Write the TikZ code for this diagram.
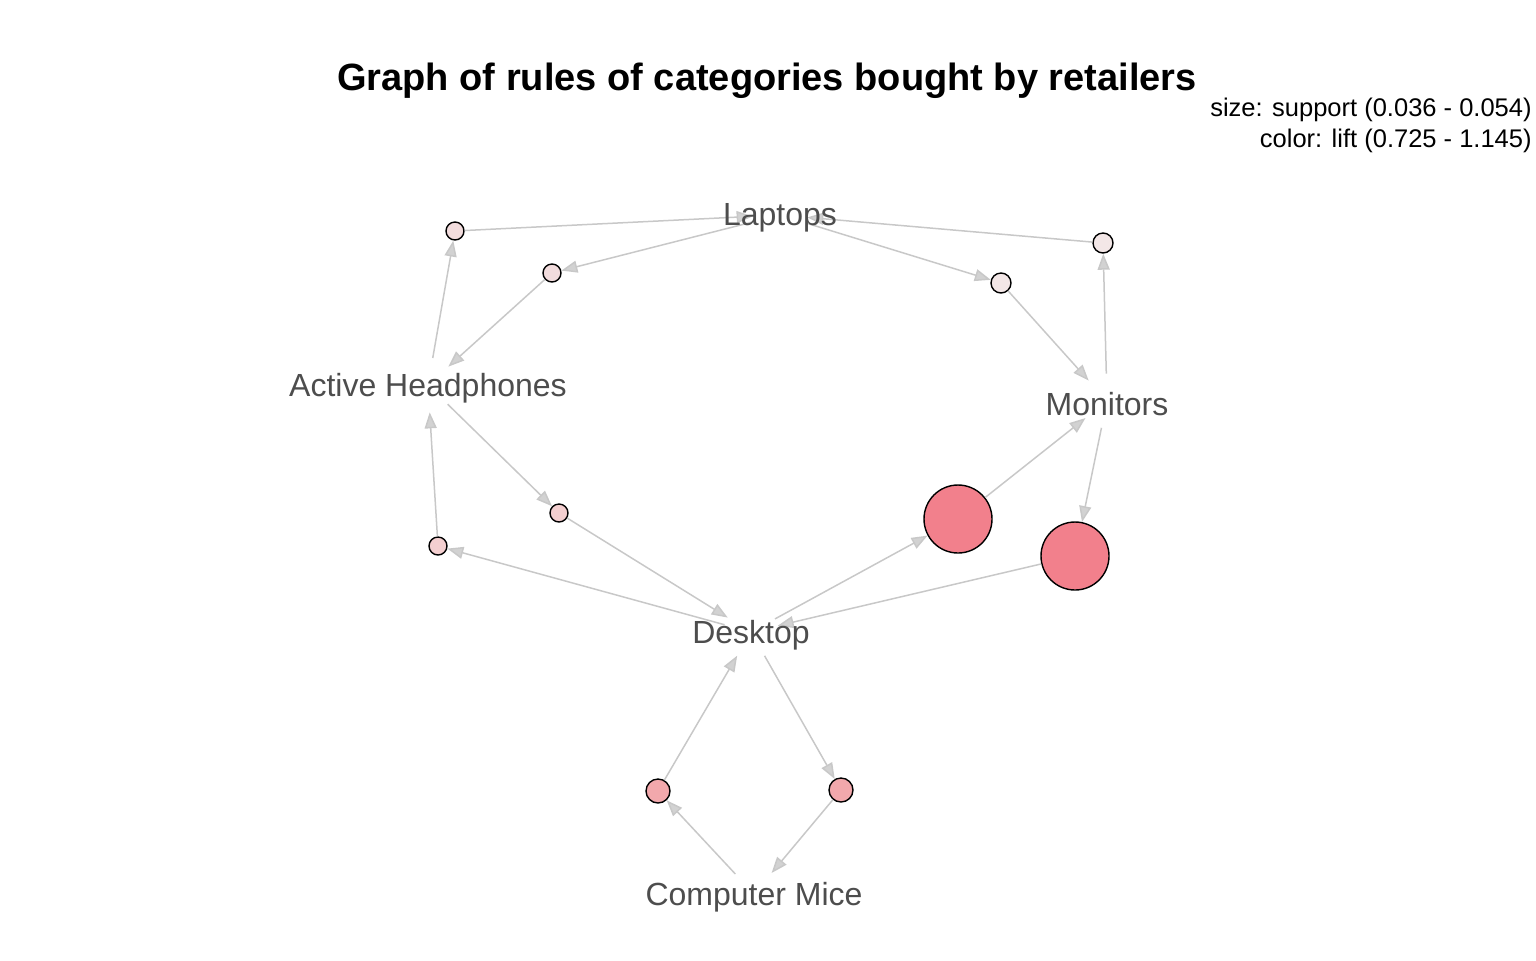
\documentclass[tikz,border=0pt]{standalone}
\usepackage{fontspec}
\setmainfont{Liberation Sans}
\usepackage{xcolor}
\usetikzlibrary{arrows.meta}
\definecolor{labelgray}{HTML}{4D4D4D}
\definecolor{edgegray}{HTML}{C8C8C8}
\definecolor{arrowgray}{HTML}{D2D2D2}
\definecolor{liftA}{HTML}{F3E7E7}
\definecolor{liftB}{HTML}{F2DCDD}
\definecolor{liftC}{HTML}{F4CFD0}
\definecolor{liftD}{HTML}{F2A8AC}
\definecolor{liftE}{HTML}{F2808C}

\begin{document}
\begin{tikzpicture}[x=0.5pt,y=-0.5pt,
    item/.style={circle,minimum size=27pt,inner sep=0pt},
    itemtext/.style={text=labelgray,font=\fontsize{16}{19}\selectfont,yshift=-1.5pt},
    rule/.style={circle,draw=black,line width=0.7pt,inner sep=0pt},
    edge/.style={draw=edgegray,line width=0.75pt,
        -{Triangle[length=8pt,width=6pt,fill=arrowgray]}}]
    \useasboundingbox (0,0) rectangle (1536,960);
    % items
    \node[item] (lap) at (780,215) {};
    \node[item] (head) at (428,385) {};
    \node[item] (mon) at (1107,401) {};
    \node[item] (desk) at (751,632) {};
    \node[item] (mice) at (754,894) {};
    % rules
    \node[rule,fill=liftB,minimum size=9pt] (r1) at (455,231) {};
    \node[rule,fill=liftB,minimum size=9pt] (r2) at (552,273) {};
    \node[rule,fill=liftA,minimum size=10pt] (r3) at (1001,283) {};
    \node[rule,fill=liftA,minimum size=10pt] (r4) at (1103,243) {};
    \node[rule,fill=liftC,minimum size=9pt] (r5) at (559,513) {};
    \node[rule,fill=liftC,minimum size=9pt] (r6) at (438,546) {};
    \node[rule,fill=liftE,minimum size=34pt] (r7) at (958,519) {};
    \node[rule,fill=liftE,minimum size=34pt] (r8) at (1075,556) {};
    \node[rule,fill=liftD,minimum size=12pt] (r9) at (658,791) {};
    \node[rule,fill=liftD,minimum size=12pt] (r10) at (841,790) {};
    \foreach \a/\b in {head/r1, r1/lap, lap/r2, r2/head, lap/r3, r3/mon,
        mon/r4, r4/lap, head/r5, r5/desk, desk/r6, r6/head, desk/r7, r7/mon,
        mon/r8, r8/desk, mice/r9, r9/desk, desk/r10, r10/mice}
        \draw[edge] (\a) -- (\b);
    % labels
    \node[itemtext] (laptext) at (lap) {Laptops};
    \node[itemtext] (headtext) at (head) {Active Headphones};
    \node[itemtext] (montext) at (mon) {Monitors};
    \node[itemtext] (desktext) at (desk) {Desktop};
    \node[itemtext] (micetext) at (mice) {Computer Mice};
    \node[font=\fontsize{19}{23}\selectfont\bfseries] (title) at (767,81)
        {Graph of rules of categories bought by retailers};
    \node[font=\fontsize{12.75}{15.5}\selectfont,align=right,anchor=north east,
        inner sep=0pt] (legend) at (1532,98)
        {size: support (0.036 - 0.054)\\color: lift (0.725 - 1.145)};
\end{tikzpicture}
\end{document}
